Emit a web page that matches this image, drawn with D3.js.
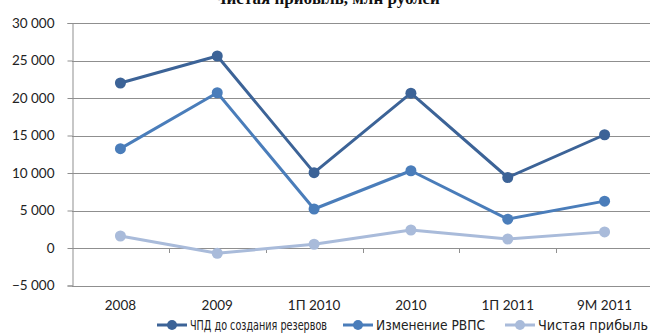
<!DOCTYPE html>
<html>
<head>
<meta charset="utf-8">
<script src="https://cdn.jsdelivr.net/npm/d3@7"></script>
<style>
  html, body { margin: 0; padding: 0; background: #fff; }
  svg { display: block; }
  .tick-label { font-family: Lato, "Open Sans", sans-serif; font-size: 13.5px; fill: #222; }
  .legend-label { font-family: "Liberation Sans Narrow", "DejaVu Sans Condensed", "Noto Sans", sans-serif; font-size: 14.5px; fill: #222; }
  .title { font-family: "Liberation Serif", "DejaVu Serif", serif; font-size: 17px; font-weight: bold; fill: #111; }
</style>
</head>
<body>
<div id="chart"></div>
<script>
// Periods on the category axis
const categories = ["2008", "2009", "1П 2010", "2010", "1П 2011", "9М 2011"];

// Series names
const seriesNames = ["ЧПД до создания резервов", "Изменение РВПС", "Чистая прибыль"];

// Values, млн рублей
const netInterestIncome = [22000, 25600, 10050, 20650, 9400, 15100];
const provisionChange   = [13250, 20700, 5200, 10300, 3850, 6250];
const netProfit         = [1600, -700, 500, 2400, 1200, 2150];

// Value-axis ticks
const yTicks = [-5000, 0, 5000, 10000, 15000, 20000, 25000, 30000];

const seriesColors = ["#3c6397", "#4a7dba", "#a9bbda"];
const series = [netInterestIncome, provisionChange, netProfit].map((values, i) => ({
  name: seriesNames[i],
  color: seriesColors[i],
  values
}));

const width = 650, height = 335;
const svg = d3.select("#chart").append("svg")
  .attr("width", width).attr("height", height);

const x = d3.scaleBand().domain(categories).range([72, 653]);
const y = d3.scaleLinear().domain([-5000, 30000]).range([285.5, 23]);

const fmt = v => d3.format(",")(v).replace(/,/g, " ");

// Title, running off the top edge
svg.append("text").attr("class", "title")
  .attr("x", 327).attr("y", 4).attr("text-anchor", "middle")
  .text("Чистая прибыль, млн рублей");

// Horizontal gridlines
svg.append("g").selectAll("line").data(yTicks).join("line")
  .attr("x1", 72).attr("x2", 653)
  .attr("y1", d => Math.round(y(d)) + 0.5).attr("y2", d => Math.round(y(d)) + 0.5)
  .attr("stroke", "#8f8f8f").attr("stroke-width", 1);

// Value axis
const yAxis = svg.append("g").attr("transform", "translate(72.5,0)")
  .call(d3.axisLeft(y).tickValues(yTicks).tickFormat(fmt).tickSizeOuter(0).tickSize(5).tickPadding(13));
yAxis.select(".domain").attr("stroke", "#8f8f8f");
yAxis.selectAll(".tick line").attr("stroke", "#8f8f8f");
yAxis.selectAll(".tick text").attr("class", "tick-label").attr("font-family", null).attr("font-size", null);

// Category axis at zero, with tick marks between categories
const boundaries = categories.slice(1).map(c => x(c));
svg.append("g").selectAll("line").data(boundaries).join("line")
  .attr("x1", d => Math.round(d) + 0.5).attr("x2", d => Math.round(d) + 0.5)
  .attr("y1", Math.round(y(0))).attr("y2", Math.round(y(0)) + 5)
  .attr("stroke", "#8f8f8f");

svg.append("g").selectAll("text").data(categories).join("text")
  .attr("class", "tick-label")
  .attr("x", d => x(d) + x.bandwidth() / 2)
  .attr("y", 310)
  .attr("text-anchor", "middle")
  .text(d => d);

// Lines and markers
const line = d3.line()
  .x((d, i) => x(categories[i]) + x.bandwidth() / 2)
  .y(d => y(d));

const sg = svg.append("g").selectAll("g").data(series).join("g");
sg.append("path")
  .attr("d", d => line(d.values))
  .attr("fill", "none")
  .attr("stroke", d => d.color)
  .attr("stroke-width", 3)
  .attr("stroke-linejoin", "round");
sg.each(function(s) {
  d3.select(this).selectAll("circle").data(s.values).join("circle")
    .attr("cx", (d, i) => x(categories[i]) + x.bandwidth() / 2)
    .attr("cy", d => y(d))
    .attr("r", 5.5)
    .attr("fill", s.color);
});

// Legend
const legendX = [157, 343, 505];
const legendTextLen = [137, 109, 110];
const lg = svg.append("g").selectAll("g").data(series).join("g")
  .attr("transform", (d, i) => `translate(${legendX[i]},325)`);
lg.append("line").attr("x1", 0).attr("x2", 30).attr("y1", 0).attr("y2", 0)
  .attr("stroke", d => d.color).attr("stroke-width", 3);
lg.append("circle").attr("cx", 15).attr("cy", 0).attr("r", 5).attr("fill", d => d.color);
lg.append("text").attr("class", "legend-label")
  .attr("x", 33).attr("y", 5)
  .attr("textLength", (d, i) => legendTextLen[i])
  .attr("lengthAdjust", "spacingAndGlyphs")
  .text(d => d.name);
</script>
</body>
</html>
